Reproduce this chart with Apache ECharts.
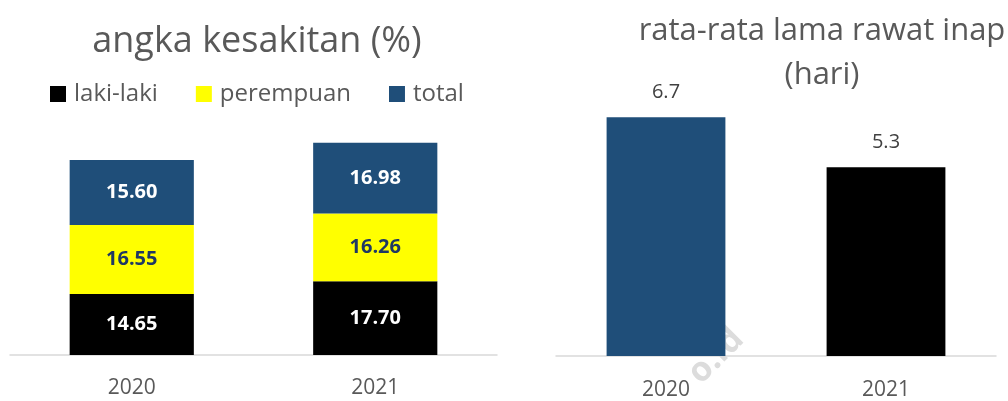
<!DOCTYPE html>
<html>
<head>
<meta charset="utf-8">
<script src="https://cdn.jsdelivr.net/npm/echarts@6/dist/echarts.min.js"></script>
<style>
html,body{margin:0;padding:0;background:#fff;}
#chart{width:1008px;height:401px;}
</style>
</head>
<body>
<div id="chart"></div>
<script>
const years = ['2020', '2021'];
const lakiLaki = [14.65, 17.70];
const perempuan = [16.55, 16.26];
const total = [15.60, 16.98];
const lamaRawat = [6.7, 5.3];

const FONT = '"Open Sans", sans-serif';
const BLUE = '#1F4E79';
const chart = echarts.init(document.getElementById('chart'), null, {renderer: 'canvas'});

const segLabel = (color) => ({
  show: true, position: 'inside', fontFamily: FONT, fontSize: 20, fontWeight: 'bold', color: color,
  formatter: p => p.value.toFixed(2)
});

chart.setOption({
  animation: false,
  backgroundColor: '#fff',
  title: [
    {text: 'angka kesakitan (%)', left: 252, top: 19, textAlign: 'center',
     textStyle: {fontFamily: FONT, fontSize: 36, fontWeight: 'normal', color: '#595959'}},
    {text: 'rata-rata lama rawat inap\n(hari)', left: 817, top: 4, textAlign: 'center',
     textStyle: {fontFamily: FONT, fontSize: 31, fontWeight: 'normal', color: '#595959', lineHeight: 44}}
  ],
  legend: {
    left: 45, top: 77, itemWidth: 16, itemHeight: 16, itemGap: 38,
    icon: 'rect',
    textStyle: {fontFamily: FONT, fontSize: 24, color: '#595959', padding: [0, 0, 0, 3]},
    data: ['laki-laki', 'perempuan', 'total']
  },
  grid: [
    {left: 10, width: 487, top: 105, height: 250},
    {left: 556, width: 440, top: 71, height: 289}
  ],
  xAxis: [
    {type: 'category', gridIndex: 0, data: years,
     axisLine: {lineStyle: {color: '#d9d9d9', width: 1.5}}, axisTick: {show: false},
     axisLabel: {fontFamily: FONT, fontSize: 21, color: '#595959', margin: 23}},
    {type: 'category', gridIndex: 1, data: years,
     axisLine: {lineStyle: {color: '#d9d9d9', width: 1.5}}, axisTick: {show: false},
     axisLabel: {fontFamily: FONT, fontSize: 21, color: '#595959', margin: 24}}
  ],
  yAxis: [
    {type: 'value', gridIndex: 0, min: 0, max: 60, show: false, splitLine: {show: false}},
    {type: 'value', gridIndex: 1, min: 0, max: 8, show: false, splitLine: {show: false}}
  ],
  graphic: [
    {type: 'text', left: 682, top: 322, rotation: Math.PI / 4, z: -10,
     style: {text: 'o.id', fontFamily: FONT, fontSize: 34, fontWeight: 'bold', fill: '#dcdcdc'}}
  ],
  series: [
    {name: 'laki-laki', type: 'bar', stack: 'a', xAxisIndex: 0, yAxisIndex: 0, barWidth: '51%',
     data: lakiLaki, itemStyle: {color: '#000000'}, label: segLabel('#ffffff')},
    {name: 'perempuan', type: 'bar', stack: 'a', xAxisIndex: 0, yAxisIndex: 0, barWidth: '51%',
     data: perempuan, itemStyle: {color: '#FFFF00'}, label: segLabel('#1F3864')},
    {name: 'total', type: 'bar', stack: 'a', xAxisIndex: 0, yAxisIndex: 0, barWidth: '51%',
     data: total, itemStyle: {color: BLUE}, label: segLabel('#ffffff')},
    {name: 'lama rawat', type: 'bar', xAxisIndex: 1, yAxisIndex: 1, barWidth: '54%',
     data: lamaRawat.map((v, i) => ({value: v, itemStyle: {color: i === 0 ? BLUE : '#000000'}})),
     label: {show: true, position: 'top', distance: 15, fontFamily: FONT, fontSize: 20, color: '#404040',
             formatter: p => p.value.toFixed(1)}}
  ]
});
</script>
</body>
</html>
